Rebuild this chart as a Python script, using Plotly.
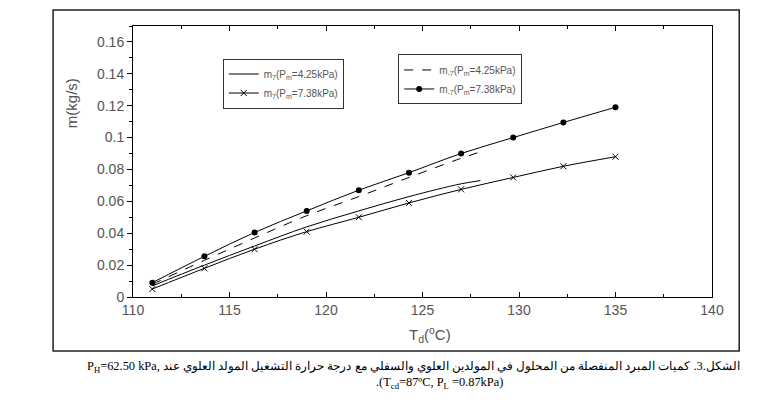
import plotly.graph_objects as go

# generator temperature (deg C)
td = [111, 113.7, 116.3, 119, 121.7, 124.3, 127, 129.7, 132.3, 135]
td_short = [111, 113.7, 116.3, 119, 121.7, 124.3, 127, 128]

# refrigerant flow (kg/s)
m7_425 = [0.007, 0.020, 0.032, 0.044, 0.054, 0.063, 0.071, 0.073]
m7_738 = [0.005, 0.018, 0.030, 0.041, 0.050, 0.059, 0.0675, 0.075, 0.082, 0.088]
mm7_425 = [0.008, 0.023, 0.037, 0.051, 0.063, 0.075, 0.087, 0.091]
mm7_738 = [0.009, 0.0255, 0.0405, 0.054, 0.067, 0.078, 0.090, 0.100, 0.1095, 0.119]

x_ticks = [110, 115, 120, 125, 130, 135, 140]
y_ticks = [0, 0.02, 0.04, 0.06, 0.08, 0.1, 0.12, 0.14, 0.16]
y_labels = ['0', '0.02', '0.04', '0.06', '0.08', '0.1', '0.12', '0.14', '0.16']

caption1 = ('P<sub>H</sub>=62.50 kPa, '
            'الشكل.3. كميات المبرد المنفصلة من المحلول في المولدين العلوي والسفلي '
            'مع درجة حرارة التشغيل المولد العلوي عند')
caption2 = '.(T<sub>cd</sub>=87ºC, P<sub>L</sub> =0.87kPa)'

grey = '#555555'

fig = go.Figure()

fig.add_trace(go.Scatter(
    x=td_short, y=m7_425, mode='lines', line=dict(color='black', width=1, shape='spline'),
    name='m<sub>7</sub>(P<sub>m</sub>=4.25kPa)', legend='legend'
))
fig.add_trace(go.Scatter(
    x=td, y=m7_738, mode='lines+markers', line=dict(color='black', width=1, shape='spline'),
    marker=dict(symbol='x-thin', size=6, line=dict(color='black', width=1)),
    name='m<sub>7</sub>(P<sub>m</sub>=7.38kPa)', legend='legend'
))
fig.add_trace(go.Scatter(
    x=td_short, y=mm7_425, mode='lines',
    line=dict(color='black', width=1, dash='dash', shape='spline'),
    name='m<sub>-7</sub>(P<sub>m</sub>=4.25kPa)', legend='legend2'
))
fig.add_trace(go.Scatter(
    x=td, y=mm7_738, mode='lines+markers', line=dict(color='black', width=1, shape='spline'),
    marker=dict(symbol='circle', size=6, color='black'),
    name='m<sub>-7</sub>(P<sub>m</sub>=7.38kPa)', legend='legend2'
))

legend_style = dict(
    bgcolor='white', bordercolor='#333333', borderwidth=1,
    font=dict(family='Liberation Sans, Arial', size=10, color=grey),
    xanchor='left', yanchor='top', tracegroupgap=0,
)

# the page body adds 8px, so the figure is a bit smaller than the window
fig.update_layout(
    width=763, height=404,
    margin=dict(l=125, r=59, t=18, b=115),
    paper_bgcolor='white', plot_bgcolor='white',
    font=dict(family='Liberation Sans, Arial', color=grey),
    legend=dict(x=0.155, y=0.88, **legend_style),
    legend2=dict(x=0.458, y=0.895, **legend_style),
    xaxis=dict(
        range=[110, 140], tickvals=x_ticks, ticks='inside', ticklen=5, automargin=False,
        tickcolor='black', linecolor='black', linewidth=1, mirror='ticks',
        showgrid=False, zeroline=False, tickfont=dict(size=14, color=grey),
        minor=dict(dtick=2.5, tick0=110, ticks='inside', ticklen=3, tickcolor='black'),
    ),
    yaxis=dict(
        range=[0, 0.17], tickvals=y_ticks, ticktext=y_labels, ticks='outside', ticklen=5,
        automargin=False,
        tickcolor='black', linecolor='black', linewidth=1, mirror=True,
        showgrid=False, zeroline=False, tickfont=dict(size=14, color=grey),
        minor=dict(dtick=0.01, tick0=0, ticks='outside', ticklen=3, tickcolor='black'),
    ),
)

# axis titles placed by hand (y title sits above centre in the original)
fig.add_annotation(text='m(kg/s)', xref='paper', yref='paper', x=-0.105, y=0.716,
                   xanchor='center', yanchor='middle',
                   textangle=-90, showarrow=False, font=dict(size=15, color=grey))
fig.add_annotation(text='T<sub>d</sub>(<sup>o</sup>C)', xref='paper', yref='paper',
                   x=0.513, y=-0.14, xanchor='center', yanchor='middle',
                   showarrow=False, font=dict(size=15, color=grey))

# outer frame around the figure
fig.add_shape(type='rect', xref='paper', yref='paper',
              x0=-0.138, x1=1.047, y0=-0.199, y1=1.059,
              line=dict(color='#222222', width=1.5), layer='below')

fig.add_annotation(text=caption1, xref='paper', yref='paper', x=0.485, y=-0.297,
                   showarrow=False, font=dict(family='Liberation Serif, Times New Roman', size=12.4, color='black'))
fig.add_annotation(text=caption2, xref='paper', yref='paper', x=0.53, y=-0.354,
                   showarrow=False, font=dict(family='Liberation Serif, Times New Roman', size=12.4, color='black'))

fig.write_html("out.html")
